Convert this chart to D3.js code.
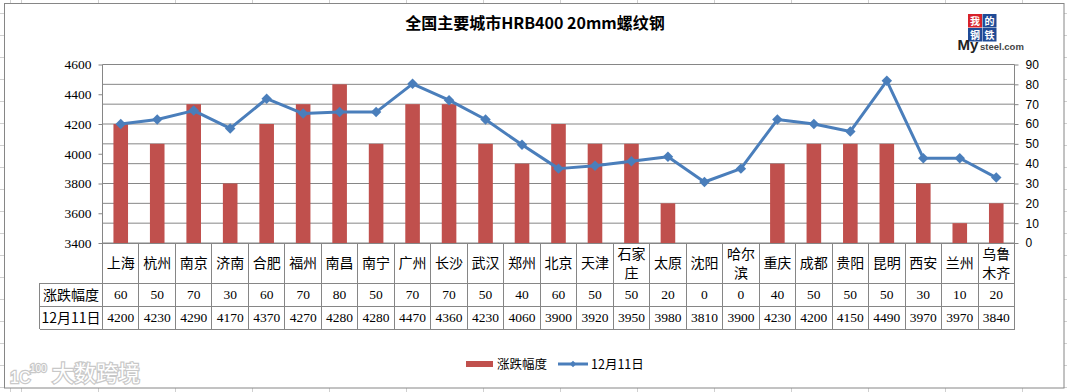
<!DOCTYPE html>
<html>
<head>
<meta charset="utf-8">
<script src="https://cdn.jsdelivr.net/npm/d3@7"></script>
<style>
  html, body { margin: 0; padding: 0; background: #fff; overflow: hidden; }
  text { font-family: "Noto Sans CJK SC", sans-serif; fill: #000; }
  .axes path, .axes line { stroke: #868686; }
  .axes text { font-size: 12px; }
  .left-axis text { font-family: "Liberation Serif", serif; font-size: 13.5px; }
  .right-axis text { font-family: "Liberation Sans", sans-serif; font-size: 12px; }
  .num { font-family: "Liberation Serif", serif; font-size: 13.5px; }
</style>
</head>
<body>
<div id="chart"></div>
<script>
// Chart values
const cities = ["上海","杭州","南京","济南","合肥","福州","南昌","南宁","广州","长沙","武汉","郑州","北京",
  "天津","石家|庄","太原","沈阳","哈尔|滨","重庆","成都","贵阳","昆明","西安","兰州","乌鲁|木齐"]
const changes = [60,50,70,30,60,70,80,50,70,70,50,40,60,50,50,20,0,0,40,50,50,50,30,10,20]
const prices = [4200,4230,4290,4170,4370,4270,4280,4280,4470,4360,4230,4060,3900,3920,3950,3980,3810,3900,4230,4200,4150,4490,3970,3970,3840]
const priceTicks = [3400,3600,3800,4000,4200,4400,4600]
const changeTicks = [0,10,20,30,40,50,60,70,80,90]
const title = "全国主要城市HRB400 20mm螺纹钢"
const barName = "涨跌幅度"
const lineName = "12月11日"

const width = 1067, height = 392
const plot = {left: 102.5, right: 1014.5, top: 64.5, bottom: 243}
const rows = {label: 283, change: 306, price: 329}
const headerLeft = 39.5
const barColor = "#c0504d", lineColor = "#4a7ebb", gridColor = "#868686"

const svg = d3.select("#chart")
  .append("svg")
  .attr("width", width)
  .attr("height", height)
  .style("display", "block")

// Worksheet grid behind the chart
const sheet = svg.append("g").attr("stroke", "#d0d0d0").attr("shape-rendering", "crispEdges")
d3.range(13, 392, 22).forEach(y => {
  sheet.append("line").attr("x1", 0).attr("x2", width).attr("y1", y).attr("y2", y)
})
d3.range(21.5, 1067, 77).concat([10]).forEach(x => {
  sheet.append("line").attr("x1", x).attr("x2", x).attr("y1", 0).attr("y2", height)
})

// Chart area
svg.append("rect")
  .attr("x", 4.5).attr("y", 3.5)
  .attr("width", 1059.5).attr("height", 384.5)
  .attr("fill", "#fff")
  .attr("stroke", "#868686")

// Scales
const x = d3.scaleBand().domain(cities).range([plot.left, plot.right]).paddingInner(0.6).paddingOuter(0.3)
const yPrice = d3.scaleLinear().domain([3400, 4600]).range([plot.bottom, plot.top])
const yChange = d3.scaleLinear().domain([0, 90]).range([plot.bottom, plot.top])
const step = x.step()
const center = d => x(d) + x.bandwidth() / 2

// Gridlines follow the right axis
svg.append("g")
  .selectAll("line")
  .data(changeTicks)
  .enter()
  .append("line")
  .attr("x1", plot.left).attr("x2", plot.right)
  .attr("y1", d => yChange(d)).attr("y2", d => yChange(d))
  .attr("stroke", gridColor)

// Axes
const leftAxis = svg.append("g")
  .attr("class", "axes left-axis")
  .attr("transform", "translate(" + plot.left + ",0)")
  .call(d3.axisLeft(yPrice).tickValues(priceTicks).tickSize(4).tickPadding(7).tickFormat(d3.format("d")))

const rightAxis = svg.append("g")
  .attr("class", "axes right-axis")
  .attr("transform", "translate(" + plot.right + ",0)")
  .call(d3.axisRight(yChange).tickValues(changeTicks).tickSize(4).tickPadding(7))

leftAxis.select(".domain").attr("d", "M0," + plot.top + "V" + plot.bottom)
rightAxis.select(".domain").attr("d", "M0," + plot.top + "V" + plot.bottom)

// Bars
svg.append("g")
  .selectAll("rect")
  .data(cities)
  .enter()
  .append("rect")
  .attr("x", d => x(d))
  .attr("y", (d, i) => yChange(changes[i]))
  .attr("width", x.bandwidth())
  .attr("height", (d, i) => plot.bottom - yChange(changes[i]))
  .attr("fill", barColor)

// Price line
const line = d3.line()
  .x(d => center(d))
  .y((d, i) => yPrice(prices[i]))

svg.append("path")
  .datum(cities)
  .attr("d", line)
  .attr("fill", "none")
  .attr("stroke", lineColor)
  .attr("stroke-width", 3)
  .attr("stroke-linejoin", "round")

const diamond = d3.symbol().type(d3.symbolDiamond2).size(70)
svg.append("g")
  .selectAll("path")
  .data(cities)
  .enter()
  .append("path")
  .attr("d", diamond)
  .attr("transform", (d, i) => "translate(" + center(d) + "," + yPrice(prices[i]) + ")")
  .attr("fill", lineColor)

// Data table
const table = svg.append("g").attr("stroke", gridColor).attr("shape-rendering", "crispEdges")
;[plot.bottom, rows.label, rows.change, rows.price].forEach((y, i) => {
  table.append("line")
    .attr("x1", i == 0 ? plot.left : headerLeft).attr("x2", plot.right)
    .attr("y1", y + 0.5).attr("y2", y + 0.5)
})
table.append("line")
  .attr("x1", headerLeft).attr("x2", headerLeft)
  .attr("y1", rows.label).attr("y2", rows.price)
d3.range(cities.length + 1).forEach(i => {
  table.append("line")
    .attr("x1", plot.left + i * step).attr("x2", plot.left + i * step)
    .attr("y1", plot.bottom).attr("y2", rows.price)
})

// Category labels, wrapped the way the table wraps them
const labels = svg.append("g")
  .selectAll("text")
  .data(cities)
  .enter()
  .append("text")
  .attr("font-size", 14)
  .attr("text-anchor", "middle")

labels.each(function(d) {
  const parts = d.split("|")
  const y0 = (plot.bottom + rows.label) / 2 + 5 - (parts.length - 1) * 9.5
  d3.select(this).selectAll("tspan")
    .data(parts)
    .enter()
    .append("tspan")
    .attr("x", center(d))
    .attr("y", (p, i) => y0 + i * 19)
    .text(p => p)
})

function tableRow(values, rowTop, rowBottom) {
  svg.append("g")
    .selectAll("text")
    .data(values)
    .enter()
    .append("text")
    .attr("class", "num")
    .attr("x", (d, i) => center(cities[i]))
    .attr("y", (rowTop + rowBottom) / 2 + 4.5)
    .attr("text-anchor", "middle")
    .text(d => d)
}
tableRow(changes, rows.label, rows.change)
tableRow(prices, rows.change, rows.price)

svg.append("text")
  .attr("x", (headerLeft + plot.left) / 2).attr("y", (rows.label + rows.change) / 2 + 5)
  .attr("text-anchor", "middle").attr("font-size", 14)
  .text(barName)
svg.append("text")
  .attr("x", (headerLeft + plot.left) / 2).attr("y", (rows.change + rows.price) / 2 + 5)
  .attr("text-anchor", "middle").attr("font-size", 14)
  .text(lineName)

// Title
svg.append("text")
  .attr("x", 535).attr("y", 29)
  .attr("text-anchor", "middle")
  .attr("font-size", 16)
  .attr("font-weight", "bold")
  .text(title)

// Legend
svg.append("rect").attr("x", 466).attr("y", 361).attr("width", 27).attr("height", 6).attr("fill", barColor)
svg.append("text").attr("x", 497).attr("y", 369).attr("font-size", 12.5).text(barName)
svg.append("line")
  .attr("x1", 558).attr("x2", 588).attr("y1", 364).attr("y2", 364)
  .attr("stroke", lineColor).attr("stroke-width", 3)
svg.append("path")
  .attr("d", d3.symbol().type(d3.symbolDiamond2).size(28))
  .attr("transform", "translate(573,364)")
  .attr("fill", lineColor)
svg.append("text").attr("x", 591).attr("y", 369).attr("font-size", 12.5).text(lineName)

// Mysteel logo
const logo = svg.append("g")
const logoCells = [
  {t: "我", x: 968, y: 14, c: "#d8222a"},
  {t: "的", x: 982.5, y: 14, c: "#1f4a96"},
  {t: "钢", x: 968, y: 28, c: "#1f4a96"},
  {t: "铁", x: 982.5, y: 28, c: "#1f4a96"}
]
logo.selectAll("rect")
  .data(logoCells)
  .enter()
  .append("rect")
  .attr("x", d => d.x).attr("y", d => d.y)
  .attr("width", 14).attr("height", 13.5)
  .attr("fill", d => d.c)
logo.selectAll("text")
  .data(logoCells)
  .enter()
  .append("text")
  .attr("x", d => d.x + 7).attr("y", d => d.y + 10.8)
  .attr("text-anchor", "middle")
  .attr("font-size", 10)
  .attr("font-weight", "bold")
  .style("fill", "#fff")
  .text(d => d.t)
svg.append("text")
  .attr("x", 957.5).attr("y", 49.5)
  .style("font-family", "Liberation Sans")
  .attr("font-weight", "bold")
  .attr("font-size", 15)
  .style("fill", "#222")
  .text("My")
svg.append("text")
  .attr("x", 980).attr("y", 49.5)
  .style("font-family", "Liberation Sans")
  .attr("font-weight", "bold")
  .attr("font-size", 9.5)
  .style("fill", "#444")
  .text("steel.com")

// Watermark, bottom left
function watermark(txt, xPos, yPos, size, family) {
  svg.append("text")
    .attr("x", xPos).attr("y", yPos)
    .style("font-family", family)
    .style("paint-order", "stroke")
    .style("fill", "#fff")
    .attr("font-size", size)
    .attr("stroke", "#c8c8c8")
    .attr("stroke-width", 2.4)
    .text(txt)
}
watermark("1C", 10, 383, 16, "Liberation Sans")
watermark("100", 30, 372, 10, "Liberation Sans")
watermark("大数跨境", 52, 381, 22, "Noto Sans CJK SC")
</script>
</body>
</html>
